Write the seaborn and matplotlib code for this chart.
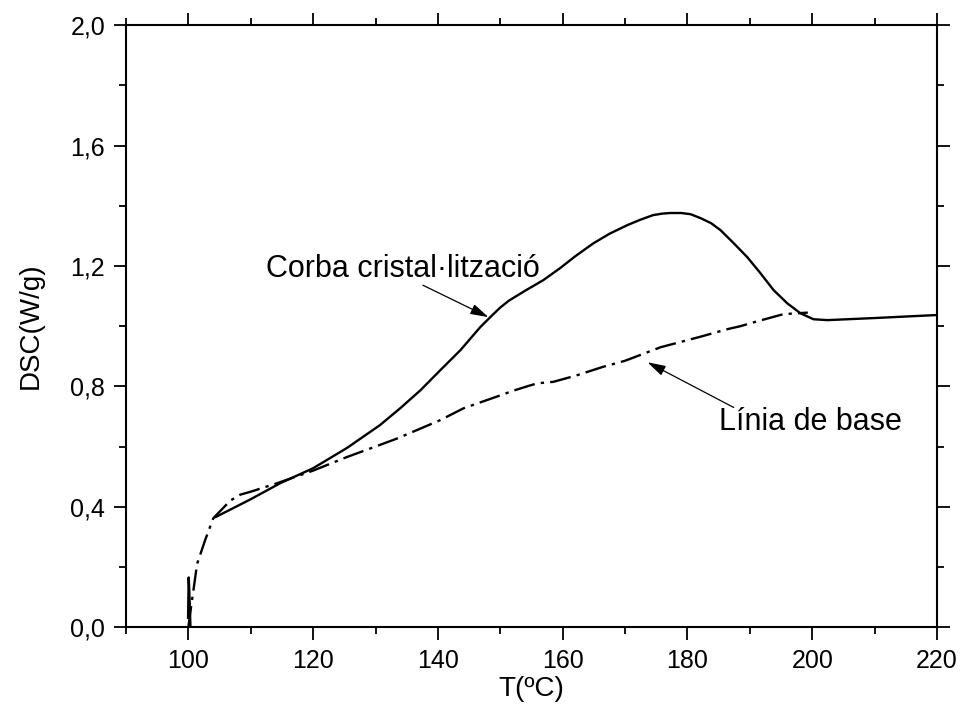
import matplotlib
matplotlib.use("Agg")
import matplotlib.pyplot as plt
import matplotlib.ticker as mticker
import seaborn as sns
import pandas as pd

# Crystallisation curve (solid): short spike at the start of the run
spike_t = [99.95, 100.05, 100.15, 100.35]
spike_dsc = [0.03, 0.165, 0.12, -0.01]

# Crystallisation curve (solid): main exotherm
curve_t = [104.3, 110.0, 114.7, 120.0, 125.4, 130.7, 134.0, 137.2, 140.4, 143.6,
           146.8, 148.4, 150.0, 151.4, 154.0, 156.9, 159.6, 162.0, 164.9, 167.5,
           170.4, 172.5, 174.5, 176.0, 177.3, 179.0, 180.5, 182.1, 183.8, 185.3,
           187.4, 189.6, 191.7, 193.8, 196.0, 198.1, 200.2, 202.4, 210.0, 220.0]
curve_dsc = [0.365, 0.425, 0.478, 0.528, 0.595, 0.671, 0.728, 0.787, 0.854, 0.920,
             0.997, 1.030, 1.062, 1.085, 1.118, 1.153, 1.193, 1.232, 1.275, 1.307,
             1.336, 1.354, 1.369, 1.374, 1.376, 1.376, 1.372, 1.359, 1.342, 1.319,
             1.276, 1.229, 1.176, 1.120, 1.076, 1.043, 1.023, 1.020, 1.027, 1.037]

# Baseline (dash-dot)
base_t = [100.0, 100.3, 101.4, 102.7, 104.0, 106.7, 108.3, 110.0, 114.2, 120.0,
          125.4, 130.0, 133.5, 140.4, 144.1, 150.0, 152.0, 154.3, 155.9, 158.5,
          162.0, 166.5, 170.0, 175.7, 182.1, 186.4, 188.5, 191.0, 195.4, 199.3]
base_dsc = [0.0, 0.047, 0.21, 0.29, 0.362, 0.42, 0.44, 0.45, 0.478, 0.52,
            0.565, 0.60, 0.627, 0.688, 0.727, 0.77, 0.785, 0.80, 0.81, 0.815,
            0.835, 0.865, 0.885, 0.93, 0.965, 0.99, 1.0, 1.015, 1.04, 1.045]

x_ticks = [100, 120, 140, 160, 180, 200, 220]
y_ticks = [0.0, 0.4, 0.8, 1.2, 1.6, 2.0]

sns.set_style("ticks")
plt.rcParams["font.family"] = ["Liberation Sans", "DejaVu Sans"]
for key in ("text.color", "axes.labelcolor", "xtick.color", "ytick.color", "axes.edgecolor"):
    plt.rcParams[key] = "black"

fig = plt.figure(figsize=(9.61, 7.2), dpi=100)
ax = fig.add_axes([0.1311, 0.129, 0.975 - 0.1311, 0.965 - 0.129])

kw = dict(estimator=None, sort=False, color="black", linewidth=1.7, ax=ax, legend=False)
sns.lineplot(data=pd.DataFrame({"T": spike_t, "DSC": spike_dsc}), x="T", y="DSC", **kw)
sns.lineplot(data=pd.DataFrame({"T": curve_t, "DSC": curve_dsc}), x="T", y="DSC", **kw)
sns.lineplot(data=pd.DataFrame({"T": base_t, "DSC": base_dsc}), x="T", y="DSC", **kw)
ax.lines[-1].set_linestyle((0, (9.0, 2.6, 1.4, 2.6)))

ax.set_xlim(90, 220)
ax.set_ylim(0, 2.0)
ax.set_xticks(x_ticks)
ax.set_yticks(y_ticks)
ax.xaxis.set_minor_locator(mticker.MultipleLocator(10))
ax.yaxis.set_minor_locator(mticker.MultipleLocator(0.2))
ax.yaxis.set_major_formatter(mticker.FuncFormatter(lambda v, p: f"{v:.1f}".replace(".", ",")))

ax.tick_params(which="both", direction="out", top=True, right=True, width=1.3, colors="black")
ax.tick_params(which="major", length=9, labelsize=18)
ax.tick_params(axis="x", which="major", pad=7)
ax.tick_params(axis="y", which="major", pad=6)
ax.tick_params(which="minor", length=5)
for s in ax.spines.values():
    s.set_linewidth(1.5)
    s.set_color("black")
    s.set_visible(True)

ax.set_xlabel("T(ºC)", fontsize=20, labelpad=2)
ax.set_ylabel("DSC(W/g)", fontsize=20, labelpad=19)

arrow = dict(arrowstyle="-|>,head_length=0.55,head_width=0.16", color="black",
             lw=0.9, mutation_scale=20, shrinkA=0, shrinkB=0)
ax.text(112.5, 1.19, "Corba cristal·lització", fontsize=22, va="center", ha="left")
ax.annotate("", xy=(148.1, 1.03), xytext=(137.6, 1.136), arrowprops=arrow)
ax.text(185.0, 0.68, "Línia de base", fontsize=22, va="center", ha="left")
ax.annotate("", xy=(173.6, 0.88), xytext=(187.4, 0.73), arrowprops=arrow)

fig.savefig("out.png", dpi=100)
